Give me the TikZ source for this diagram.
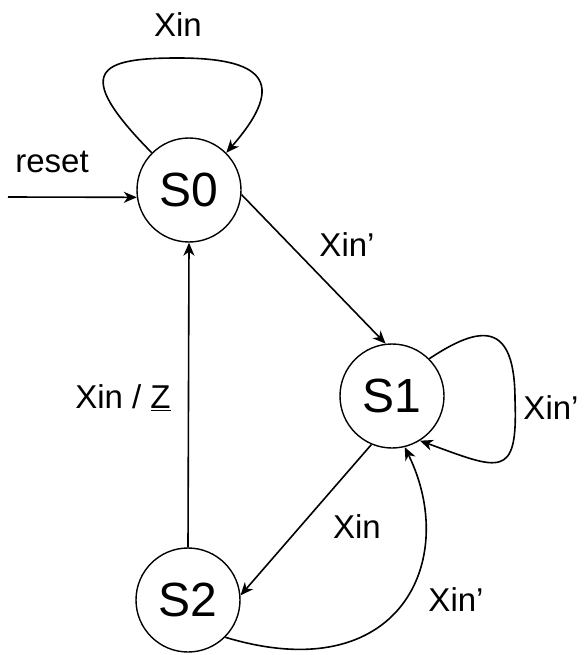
\documentclass[tikz,border=0pt]{standalone}
\usepackage{fontspec}
\setmainfont{Liberation Sans}
\usetikzlibrary{arrows.meta}
\tikzset{
	state/.style={circle,draw,line width=1.4pt,minimum size=104pt,inner sep=0pt,font=\fontsize{48}{50}\selectfont},
	lbl/.style={font=\fontsize{33}{36}\selectfont,inner sep=1pt},
}
\begin{document}
\begin{tikzpicture}[x=1pt,y=-1pt,>={Stealth[length=13pt,width=11pt,inset=4pt]},line width=1.6pt]
	\useasboundingbox (0,0) rectangle (586,655);
	\path
	(189,190)		node[state] 	(S0) {S0}
	(392,396)		node[state] 	(S1) {S1}
	(188,600)		node[state] 	(S2) {S2}
	(8,197)			coordinate 		(rst)
	(178,58)		coordinate 		(top0)
	(515,400)		coordinate 		(side1)
	(52,162)		node[lbl] 		{reset}
	(178,25)		node[lbl] 		{Xin}
	(347,245)		node[lbl] 		{Xin'}
	(551,408)		node[lbl] 		{Xin'}
	(357,527)		node[lbl] 		{Xin}
	(456,600)		node[lbl] 		{Xin'}
	(123,398)		node[lbl] 		{Xin / \underline{Z}};
	\draw[->] (rst)--(S0.188);
	\draw[->] (S0.135) .. controls (70,70) and (100,58) .. (top0)
		.. controls (260,58) and (290,80) .. (S0.45);
	\draw[->] (S0.-5)--(S1.97);
	\draw[->] (S1.45) .. controls (480,325) and (515,320) .. (side1)
		.. controls (518,480) and (500,470) .. (S1.-58);
	\draw[->] (S1.247)--(S2.5);
	\draw[->] (S2.-45) .. controls (400,690) and (460,560) .. (S1.-76);
	\draw[->] (S2.north)--(S0.south);
\end{tikzpicture}
\end{document}
